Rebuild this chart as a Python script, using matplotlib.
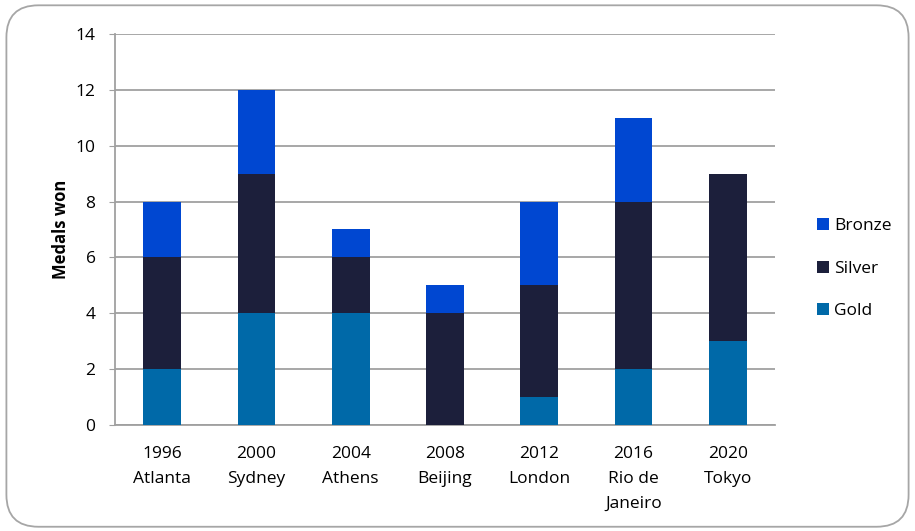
import matplotlib.pyplot as plt
import numpy as np
from matplotlib.patches import FancyBboxPatch

plt.rcParams['font.family'] = ['Open Sans', 'DejaVu Sans']

games = ['1996\nAtlanta', '2000\nSydney', '2004\nAthens', '2008\nBeijing',
         '2012\nLondon', '2016\nRio de\nJaneiro', '2020\nTokyo']
gold = [2, 4, 4, 0, 1, 2, 3]
silver = [4, 5, 2, 4, 4, 6, 6]
bronze = [2, 3, 1, 1, 3, 3, 0]

gold_col = '#0069A8'
silver_col = '#1C1F3B'
bronze_col = '#0047D1'
grid_col = '#A0A0A0'

fig = plt.figure(figsize=(9.15, 5.31), dpi=100)
ax = fig.add_axes([0.1257, 0.1996, 0.7213, 0.7364])

# rounded frame round the whole chart
frame = FancyBboxPatch((0.007, 0.008), 0.986, 0.982,
                       boxstyle='round,pad=0,rounding_size=0.035',
                       transform=fig.transFigure, fill=False,
                       edgecolor='#A6A6A6', linewidth=1.3,
                       mutation_aspect=915 / 531)
fig.patches.append(frame)

x = np.arange(len(games))
g = np.array(gold)
s = np.array(silver)
b = np.array(bronze)
w = 0.4
ax.bar(x, g, w, color=gold_col, label='Gold', zorder=3)
ax.bar(x, s, w, bottom=g, color=silver_col, label='Silver', zorder=3)
ax.bar(x, b, w, bottom=g + s, color=bronze_col, label='Bronze', zorder=3)

ax.set_xlim(-0.5, len(games) - 0.5)
ax.set_ylim(0, 14)
ax.set_yticks(range(0, 15, 2))
ax.set_xticks(x)
ax.set_xticklabels(games, fontsize=12.5, linespacing=1.75)
ax.tick_params(axis='y', labelsize=12.5, length=4, color=grid_col, pad=10)
ax.tick_params(axis='x', length=0, pad=15)
ax.yaxis.grid(True, color=grid_col, linewidth=1.3, zorder=0)
for side in ['top', 'right']:
    ax.spines[side].set_visible(False)
for side in ['left', 'bottom']:
    ax.spines[side].set_color(grid_col)
    ax.spines[side].set_linewidth(1.3)
ax.set_ylabel('Medals won', fontsize=12, fontweight='bold', labelpad=4)

handles, labels = ax.get_legend_handles_labels()
ax.legend(handles[::-1], labels[::-1], loc='center left',
          bbox_to_anchor=(1.04, 0.40), frameon=False, fontsize=12.5,
          handlelength=0.7, handleheight=0.7, handletextpad=0.3,
          labelspacing=1.5)

fig.savefig('out.png', dpi=100)
